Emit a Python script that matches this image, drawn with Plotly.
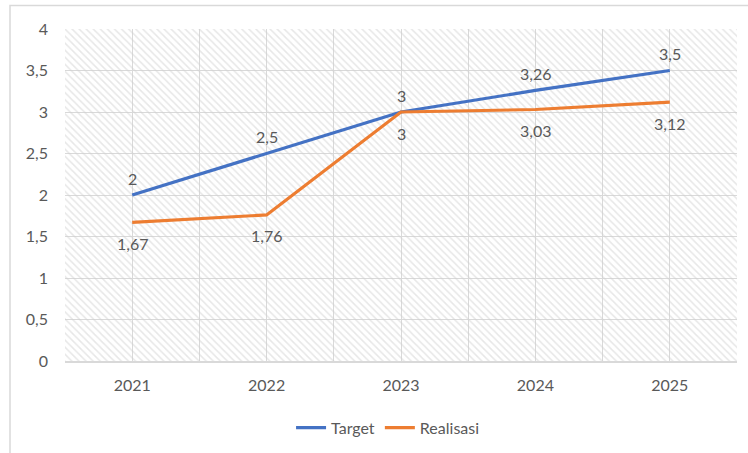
import plotly.graph_objects as go

years = [2021, 2022, 2023, 2024, 2025]
target = [2, 2.5, 3, 3.26, 3.5]
realisasi = [1.67, 1.76, 3, 3.03, 3.12]
y_ticks = [0, 0.5, 1, 1.5, 2, 2.5, 3, 3.5, 4]

x_range = [years[0] - 0.5, years[-1] + 0.5]
y_range = [0, 4]

FONT = "Lato"
TXT = "#595959"
GRID = "#d9d9d9"


def fmt(v):
    return f"{v:g}".replace(".", ",")


fig = go.Figure()

# hatched plot-area background
fig.add_trace(go.Scatter(
    x=[x_range[0], x_range[1], x_range[1], x_range[0], x_range[0]],
    y=[y_range[0], y_range[0], y_range[1], y_range[1], y_range[0]],
    mode="lines", line=dict(width=0), fill="toself",
    fillcolor="rgba(0,0,0,0)",
    fillpattern=dict(shape="\\", size=5, solidity=0.3,
                     fgcolor="#cfcfcf", bgcolor="rgba(255,255,255,0)", fillmode="overlay"),
    hoverinfo="skip", showlegend=False,
))

fig.add_trace(go.Scatter(
    x=years, y=target, name="Target", mode="lines",
    line=dict(color="#4472C4", width=3.2),
))
fig.add_trace(go.Scatter(
    x=years, y=realisasi, name="Realisasi", mode="lines",
    line=dict(color="#ED7D31", width=3.2),
))

annotations = []
for x, v in zip(years, target):
    annotations.append(dict(x=x, y=v, text=fmt(v), showarrow=False, yshift=17,
                            font=dict(family=FONT, size=16, color=TXT)))
for x, v in zip(years, realisasi):
    annotations.append(dict(x=x, y=v, text=fmt(v), showarrow=False, yshift=-21,
                            font=dict(family=FONT, size=16, color=TXT)))

fig.update_layout(
    width=748, height=453,
    margin=dict(l=65, r=11, t=29, b=92, autoexpand=False),
    paper_bgcolor="white", plot_bgcolor="white",
    separators=", ",
    font=dict(family=FONT, size=16, color=TXT),
    showlegend=True,
    legend=dict(orientation="h", x=0.48, xanchor="center", y=-0.15, yanchor="top",
                font=dict(family=FONT, size=16, color=TXT)),
    annotations=annotations,
    shapes=[dict(type="rect", xref="paper", yref="paper",
                 x0=(10 - 65) / 672, x1=1.05, y0=-0.4, y1=(361 - 5.5) / 332,
                 line=dict(color=GRID, width=1.5), fillcolor="rgba(0,0,0,0)", layer="below")],
)

fig.update_xaxes(
    range=x_range, tickvals=years, ticktext=[str(y) for y in years],
    showgrid=True, gridcolor=GRID, gridwidth=1,
    minor=dict(tick0=x_range[0], dtick=1, showgrid=True, gridcolor=GRID, gridwidth=1),
    showline=True, linecolor=GRID, linewidth=1.5, zeroline=False,
    ticks="", ticklabelstandoff=9, automargin=False,
    tickfont=dict(family=FONT, size=16, color=TXT),
    fixedrange=True,
)
fig.update_yaxes(
    range=y_range, tickvals=y_ticks,
    showgrid=True, gridcolor=GRID, gridwidth=1,
    zeroline=False, showline=False, ticks="", ticklabelstandoff=16, automargin=False,
    tickfont=dict(family=FONT, size=16, color=TXT),
    fixedrange=True,
)

fig.write_html(
    "out.html",
    config={"displayModeBar": False},
    post_script="document.body.style.margin='0';document.body.style.overflow='hidden';",
)
